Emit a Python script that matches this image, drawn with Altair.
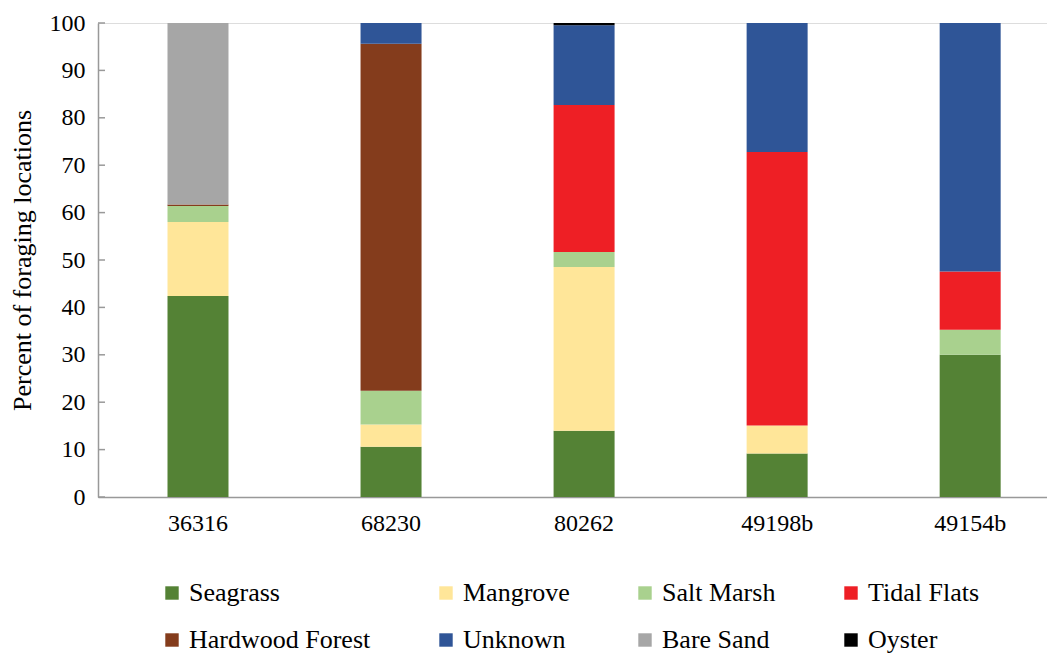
import altair as alt
import pandas as pd

ids = ["36316", "68230", "80262", "49198b", "49154b"]
habitats = ["Seagrass", "Mangrove", "Salt Marsh", "Tidal Flats",
            "Hardwood Forest", "Unknown", "Bare Sand", "Oyster"]
colors = ["#548235", "#FFE699", "#A9D18E", "#EE1F25",
          "#843C1C", "#2F5597", "#A6A6A6", "#000000"]

seagrass = [42.4, 10.6, 14.0, 9.2, 30.0]
mangrove = [15.6, 4.7, 34.5, 5.9, 0.0]
salt_marsh = [3.4, 7.1, 3.2, 0.0, 5.3]
tidal_flats = [0.0, 0.0, 31.0, 57.7, 12.3]
hardwood_forest = [0.3, 73.2, 0.0, 0.0, 0.0]
unknown = [0.0, 4.4, 16.8, 27.2, 52.4]
bare_sand = [38.3, 0.0, 0.0, 0.0, 0.0]
oyster = [0.0, 0.0, 0.5, 0.0, 0.0]

y_ticks = [0, 10, 20, 30, 40, 50, 60, 70, 80, 90, 100]

series = [seagrass, mangrove, salt_marsh, tidal_flats,
          hardwood_forest, unknown, bare_sand, oyster]

rows = []
for k, (h, vals) in enumerate(zip(habitats, series)):
    for i, v in zip(ids, vals):
        rows.append({"id": i, "habitat": h, "order": k, "value": v})
df = pd.DataFrame(rows)

FONT = "Times New Roman, Liberation Serif, DejaVu Serif, serif"

bars = alt.Chart(df).mark_bar(size=61).encode(
    x=alt.X("id:N", sort=ids, title=None,
            scale=alt.Scale(paddingInner=0.684, paddingOuter=0.3, align=0.6),
            axis=alt.Axis(labelAngle=0, ticks=False, labelPadding=14,
                          labelFontSize=24, labelFont=FONT, labelColor="#000",
                          domainColor="#999", domainWidth=1.5)),
    y=alt.Y("value:Q", stack="zero", title="Percent of foraging locations",
            scale=alt.Scale(domain=[0, 100], nice=False),
            axis=alt.Axis(values=y_ticks, ticks=False, grid=False,
                          labelPadding=13, labelFontSize=24, labelFont=FONT,
                          labelColor="#000", titleFont=FONT, titleFontSize=26,
                          titleFontWeight="normal", titleColor="#000",
                          titlePadding=14, domainColor="#999", domainWidth=1.5)),
    color=alt.Color("habitat:N", sort=habitats,
                    scale=alt.Scale(domain=habitats, range=colors),
                    legend=alt.Legend(title=None, orient="none", legendX=61,
                                      legendY=557, columns=4, direction="horizontal",
                                      symbolType="square", symbolSize=180,
                                      symbolStrokeWidth=0, labelFont=FONT,
                                      labelFontSize=26, labelColor="#000",
                                      labelLimit=0,
                                      columnPadding=62, rowPadding=21,
                                      symbolOffset=0, labelOffset=4)),
    order=alt.Order("order:Q", sort="ascending"),
)

tick_df = pd.DataFrame({"t": y_ticks})
ticks = alt.Chart(tick_df).mark_rule(color="#999", strokeWidth=1.5).encode(
    y=alt.Y("t:Q"),
    x=alt.value(0),
    x2=alt.value(7),
)

chart = alt.layer(bars, ticks).properties(
    width=949, height=474,
    padding={"left": 1, "right": 0, "top": 3, "bottom": 0},
).configure_view(stroke=None).configure(background="white")

chart.save("out.html", embed_options={"renderer": "svg", "actions": False})
